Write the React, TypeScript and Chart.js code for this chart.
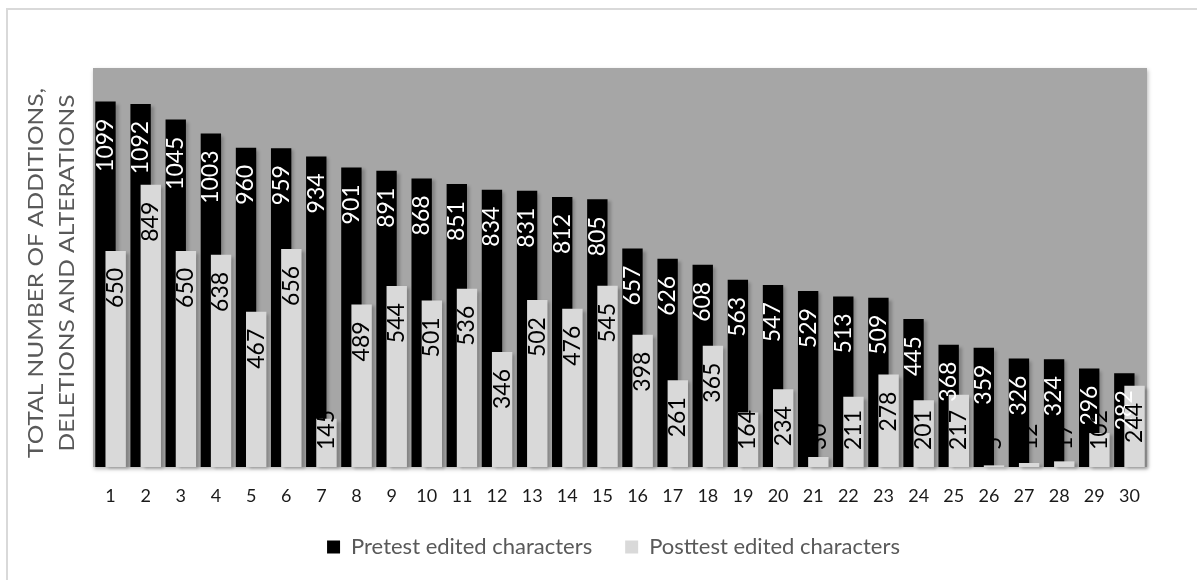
import React, { useEffect, useRef } from "react";
import { Chart, registerables } from "chart.js";

Chart.register(...registerables);

const CATEGORIES = [
  "1", "2", "3", "4", "5", "6", "7", "8", "9", "10",
  "11", "12", "13", "14", "15", "16", "17", "18", "19", "20",
  "21", "22", "23", "24", "25", "26", "27", "28", "29", "30",
];

const PRETEST = [
  1099, 1092, 1045, 1003, 960, 959, 934, 901, 891, 868,
  851, 834, 831, 812, 805, 657, 626, 608, 563, 547,
  529, 513, 509, 445, 368, 359, 326, 324, 296, 282,
];

const POSTTEST = [
  650, 849, 650, 638, 467, 656, 145, 489, 544, 501,
  536, 346, 502, 476, 545, 398, 261, 365, 164, 234,
  30, 211, 278, 201, 217, 5, 12, 17, 102, 244,
];

const SERIES_NAMES = ["Pretest edited characters", "Posttest edited characters"];
const SERIES_COLORS = ["#000000", "#d9d9d9"];
const LABEL_COLORS = ["#ffffff", "#000000"];
const TITLE_LINES = ["TOTAL NUMBER OF ADDITIONS,", "DELETIONS AND ALTERATIONS"];
const Y_MIN = 0;
const Y_MAX = 1200;

const FONT = "Lato, 'Open Sans', sans-serif";

const backgroundPlugin = {
  id: "plotBackground",
  beforeDraw(chart: any) {
    const { ctx, chartArea } = chart;
    ctx.save();
    ctx.shadowColor = "rgba(0,0,0,0.28)";
    ctx.shadowBlur = 4;
    ctx.shadowOffsetX = 1;
    ctx.shadowOffsetY = 2;
    ctx.fillStyle = "#a6a6a6";
    ctx.fillRect(chartArea.left, chartArea.top, chartArea.right - chartArea.left, chartArea.bottom - chartArea.top);
    ctx.restore();
  },
};

const barsPlugin = {
  id: "barsOrderAndLabels",
  beforeDatasetsDraw(chart: any) {
    const ctx = chart.ctx;
    ctx.save();
    ctx.shadowColor = "rgba(0,0,0,0.22)";
    ctx.shadowBlur = 3;
    ctx.shadowOffsetX = 3;
    ctx.shadowOffsetY = 2;
  },
  beforeDatasetDraw(chart: any, args: any) {
    if (args.index === 1) return false;
    return undefined;
  },
  afterDatasetsDraw(chart: any) {
    const ctx = chart.ctx;
    // posttest bars are drawn on top of the pretest bars
    chart.getDatasetMeta(1).controller.draw();
    ctx.restore();

    ctx.save();
    ctx.font = `23px ${FONT}`;
    chart.data.datasets.forEach((ds: any, di: number) => {
      const meta = chart.getDatasetMeta(di);
      ctx.fillStyle = LABEL_COLORS[di];
      meta.data.forEach((bar: any, i: number) => {
        const { x, y, base } = bar.getProps(["x", "y", "base"], true);
        const text = String(ds.data[i]);
        const w = ctx.measureText(text).width;
        let end = y + 17;
        if (end + w > base - 17) end = base - 17 - w;
        ctx.save();
        ctx.translate(x, end);
        ctx.rotate(-Math.PI / 2);
        ctx.textAlign = "right";
        ctx.textBaseline = "middle";
        ctx.fillText(text, 0, 0);
        ctx.restore();
      });
    });
    ctx.restore();
  },
};

const titlePlugin = {
  id: "yTitle",
  afterDraw(chart: any) {
    const { ctx, chartArea } = chart;
    ctx.save();
    ctx.font = `20.5px ${FONT}`;
    ctx.fillStyle = "#595959";
    const w1 = ctx.measureText(TITLE_LINES[0]).width;
    const sx = 370 / w1;
    const cy = (chartArea.top + chartArea.bottom) / 2 + 5.5;
    const baseX = [42.5, 74];
    TITLE_LINES.forEach((line, i) => {
      ctx.save();
      ctx.translate(baseX[i], cy);
      ctx.rotate(-Math.PI / 2);
      ctx.scale(sx, 1);
      ctx.textAlign = "center";
      ctx.textBaseline = "alphabetic";
      ctx.fillText(line, 0, 0);
      ctx.restore();
    });
    ctx.restore();
  },
};

export default function App() {
  const canvasRef = useRef<HTMLCanvasElement | null>(null);

  useEffect(() => {
    const canvas = canvasRef.current;
    if (!canvas) return;
    const chart = new Chart(canvas, {
      type: "bar",
      data: {
        labels: CATEGORIES,
        datasets: [
          {
            label: SERIES_NAMES[0],
            data: PRETEST,
            backgroundColor: SERIES_COLORS[0],
            borderColor: SERIES_COLORS[0],
            borderWidth: 0,
          },
          {
            label: SERIES_NAMES[1],
            data: POSTTEST,
            backgroundColor: SERIES_COLORS[1],
            borderColor: SERIES_COLORS[1],
            borderWidth: 0,
          },
        ],
      },
      options: {
        responsive: false,
        animation: false,
        layout: { padding: { left: 80, right: 50, top: 68, bottom: 12 } },
        datasets: { bar: { categoryPercentage: 0.58, barPercentage: 2 } } as any,
        scales: {
          x: {
            grid: { display: false, drawTicks: false },
            border: { display: false },
            ticks: {
              color: "#1a1a1a",
              font: { family: FONT, size: 18 },
              padding: 18,
              maxRotation: 0,
              autoSkip: false,
            },
            afterFit: (s: any) => {
              s.height = 36;
            },
          },
          y: {
            min: Y_MIN,
            max: Y_MAX,
            grid: { display: false, drawTicks: false },
            border: { display: false },
            ticks: { display: false },
            afterFit: (s: any) => {
              s.width = 13;
            },
          },
        },
        plugins: {
          legend: {
            position: "bottom",
            labels: {
              boxWidth: 13,
              boxHeight: 13,
              padding: 33,
              color: "#595959",
              font: { family: FONT, size: 22 },
            },
          },
          tooltip: { enabled: false },
        },
      },
      plugins: [backgroundPlugin, barsPlugin, titlePlugin],
    });
    return () => chart.destroy();
  }, []);

  return (
    <div>
      <div
        style={{
          position: "fixed",
          left: 6,
          top: 8,
          width: 1191,
          height: 572,
          borderTop: "2px solid #d9d9d9",
          borderLeft: "2px solid #d9d9d9",
          boxSizing: "border-box",
        }}
      />
      <canvas
        ref={canvasRef}
        width={1197}
        height={580}
        style={{ position: "fixed", left: 0, top: 0, width: 1197, height: 580 }}
      />
    </div>
  );
}
